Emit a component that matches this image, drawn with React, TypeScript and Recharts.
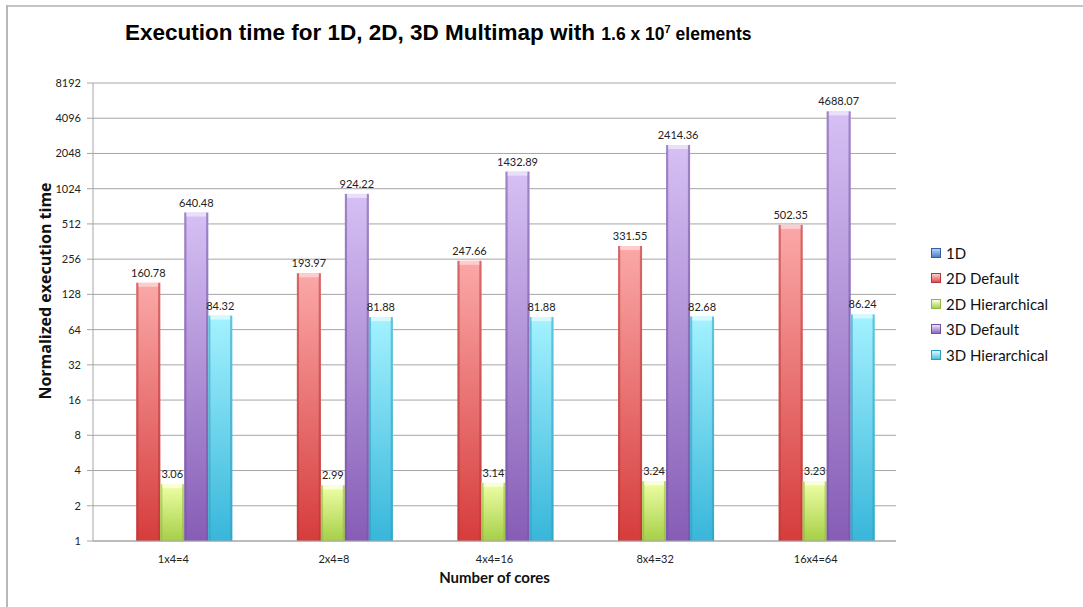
import React from "react";
import { BarChart, Bar, XAxis, YAxis, CartesianGrid, LabelList, Label } from "recharts";

// Number of cores per run
const categories = ["1x4=4", "2x4=8", "4x4=16", "8x4=32", "16x4=64"];

// Normalized execution times per series (1D has no bars shown)
const series1D: (number | null)[] = [null, null, null, null, null];
const series2DDefault = [160.78, 193.97, 247.66, 331.55, 502.35];
const series2DHier = [3.06, 2.99, 3.14, 3.24, 3.23];
const series3DDefault = [640.48, 924.22, 1432.89, 2414.36, 4688.07];
const series3DHier = [84.32, 81.88, 81.88, 82.68, 86.24];

const yTicks = [1, 2, 4, 8, 16, 32, 64, 128, 256, 512, 1024, 2048, 4096, 8192];

const data = categories.map((c, i) => ({
  cat: c,
  d1: series1D[i],
  d2def: series2DDefault[i],
  d2hier: series2DHier[i],
  d3def: series3DDefault[i],
  d3hier: series3DHier[i],
}));

type Palette = { id: string; top: string; bottom: string; edge: string; cap: string; legend: string };

const palettes: Record<string, Palette> = {
  d1: { id: "gBlue", top: "#8fb6ec", bottom: "#3d72c0", edge: "#2f5fa8", cap: "#b9d3f5", legend: "#4a80c8" },
  d2def: { id: "gRed", top: "#fba8a8", bottom: "#d63c3c", edge: "#b93434", cap: "#ffd0d0", legend: "#d95050" },
  d2hier: { id: "gGreen", top: "#eeffa6", bottom: "#a6cf48", edge: "#8fb83a", cap: "#fbffe0", legend: "#a8cc58" },
  d3def: { id: "gPurple", top: "#d6c0f4", bottom: "#865db6", edge: "#7452a3", cap: "#ece2fb", legend: "#8c68c0" },
  d3hier: { id: "gCyan", top: "#a4f2ff", bottom: "#38b6da", edge: "#2e9cc0", cap: "#d9fbff", legend: "#48c0e0" },
};

const legendItems = [
  { key: "d1", name: "1D" },
  { key: "d2def", name: "2D Default" },
  { key: "d2hier", name: "2D Hierarchical" },
  { key: "d3def", name: "3D Default" },
  { key: "d3hier", name: "3D Hierarchical" },
];

const makeShape = (p: Palette) => (props: any) => {
  const { x, y, width, height } = props;
  if (!height || height <= 0 || width <= 0) return <g />;
  const edge = Math.max(1.5, width * 0.09);
  return (
    <g>
      <rect x={x} y={y} width={width} height={height} fill={`url(#${p.id})`} />
      <rect x={x} y={y} width={edge} height={height} fill={p.edge} opacity={0.55} />
      <rect x={x + width - edge} y={y} width={edge} height={height} fill={p.edge} opacity={0.55} />
      <rect x={x + edge} y={y} width={width - 2 * edge} height={Math.min(4, height)} fill={p.cap} opacity={0.9} />
    </g>
  );
};

const fmt = (v: any) => (v == null ? "" : Number(v).toFixed(2));

export default function App() {
  const font = "Lato, 'Open Sans', sans-serif";
  return (
    <div style={{ position: "absolute", left: 0, top: 0, width: 1083, height: 607, background: "#fff", overflow: "hidden" }}>
      {/* frame */}
      <div style={{ position: "absolute", left: 6, top: 5, width: 1077, height: 2, background: "#c4c4c4" }} />
      <div style={{ position: "absolute", left: 6, top: 5, width: 2, height: 602, background: "#b8b8b8" }} />

      {/* title */}
      <div
        style={{
          position: "absolute",
          left: 125,
          top: 19,
          fontFamily: "'Liberation Sans', Arial, sans-serif",
          fontWeight: "bold",
          fontSize: 22.5,
          lineHeight: "28px",
          color: "#000",
          whiteSpace: "nowrap",
        }}
      >
        Execution time for 1D, 2D, 3D Multimap with{" "}
        <span style={{ fontSize: 17.5 }}>
          1.6 x 10<sup style={{ fontSize: 11, lineHeight: 0 }}>7</sup> elements
        </span>
      </div>

      {/* y-axis title */}
      <div
        style={{
          position: "absolute",
          left: 45,
          top: 291,
          transform: "translate(-50%, -50%) rotate(-90deg)",
          fontFamily: "'Open Sans', sans-serif",
          fontWeight: "bold",
          fontSize: 16,
          color: "#111",
          whiteSpace: "nowrap",
        }}
      >
        Normalized execution time
      </div>

      <BarChart
        width={1083}
        height={607}
        data={data}
        margin={{ top: 83, right: 187, bottom: 36, left: 18 }}
        barCategoryGap="12%"
        barGap={0}
        style={{ position: "absolute", left: 0, top: 0 }}
      >
        <defs>
          {Object.values(palettes).map((p) => (
            <linearGradient key={p.id} id={p.id} x1="0" y1="0" x2="0" y2="1">
              <stop offset="0%" stopColor={p.top} />
              <stop offset="100%" stopColor={p.bottom} />
            </linearGradient>
          ))}
        </defs>
        <CartesianGrid vertical={false} stroke="#a6a6a6" strokeWidth={1} />
        <XAxis
          dataKey="cat"
          tickLine={false}
          axisLine={{ stroke: "#a6a6a6" }}
          tick={{ fontSize: 11, fill: "#222", fontFamily: font }}
          tickMargin={8}
          height={30}
        >
          <Label
            value="Number of cores"
            position="insideBottom"
            offset={-12}
            style={{ fontSize: 15, fontWeight: "bold", fill: "#111", fontFamily: font }}
          />
        </XAxis>
        <YAxis
          scale="log"
          domain={[1, 8192]}
          ticks={yTicks}
          interval={0}
          allowDataOverflow
          width={75}
          tickLine={{ stroke: "#a6a6a6" }}
          tickSize={6}
          axisLine={{ stroke: "#a6a6a6" }}
          tick={{ fontSize: 11, fill: "#222", fontFamily: font }}
          tickMargin={6}
        />
        {legendItems.map((it) => (
          <Bar
            key={it.key}
            dataKey={it.key}
            name={it.name}
            fill={palettes[it.key].legend}
            shape={makeShape(palettes[it.key])}
            isAnimationActive={false}
          >
            <LabelList
              dataKey={it.key}
              position="top"
              offset={6}
              formatter={fmt}
              style={{ fontSize: 11, fill: "#222", fontFamily: font }}
            />
          </Bar>
        ))}
      </BarChart>

      {/* legend */}
      <div style={{ position: "absolute", left: 931, top: 240, fontFamily: font, fontSize: 15, color: "#111" }}>
        {legendItems.map((it) => {
          const p = palettes[it.key];
          return (
            <div key={it.key} style={{ display: "flex", alignItems: "center", height: 25.5 }}>
              <div
                style={{
                  width: 10,
                  height: 10,
                  marginRight: 5,
                  background: `linear-gradient(${p.cap}, ${p.legend})`,
                  border: `1px solid ${p.edge}`,
                  boxSizing: "border-box",
                }}
              />
              <span>{it.name}</span>
            </div>
          );
        })}
      </div>
    </div>
  );
}
